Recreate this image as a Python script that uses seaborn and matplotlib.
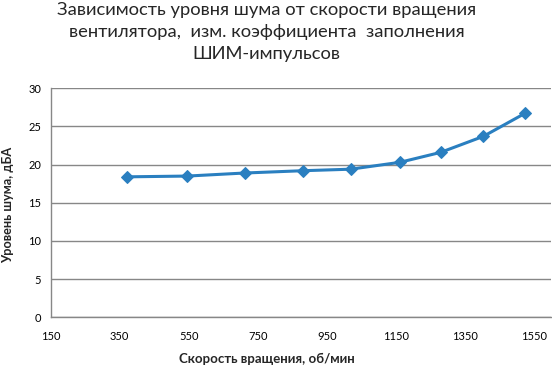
import pandas as pd
import matplotlib
matplotlib.use("Agg")
import matplotlib.pyplot as plt
import seaborn as sns

# Data
speed_rpm = [372, 546, 712, 880, 1019, 1162, 1280, 1404, 1524]
noise_dba = [18.4, 18.5, 18.9, 19.2, 19.4, 20.3, 21.6, 23.7, 26.7]
x_ticks = [150, 350, 550, 750, 950, 1150, 1350, 1550]
y_ticks = [0, 5, 10, 15, 20, 25, 30]

title = ("Зависимость уровня шума от скорости вращения\n"
         "вентилятора,  изм. коэффициента  заполнения\n"
         "ШИМ-импульсов")
x_label = "Скорость вращения, об/мин"
y_label = "Уровень шума, дБА"

df = pd.DataFrame({"speed": speed_rpm, "noise": noise_dba})

sns.set_style("white")
plt.rcParams["font.family"] = ["Lato", "DejaVu Sans"]

fig = plt.figure(figsize=(5.52, 3.68), dpi=100)
ax = fig.add_axes([0.092, 0.138, 0.906, 0.622])

sns.lineplot(data=df, x="speed", y="noise", ax=ax, color="#2A7FC0",
             linewidth=2.2, marker="D", markersize=6, markeredgecolor="#2A7FC0")

ax.set_xlim(150, 1600)
ax.set_ylim(0, 30)
ax.set_xticks(x_ticks)
ax.set_yticks(y_ticks)
ax.yaxis.grid(True, color="#878787", linewidth=1)
ax.xaxis.grid(False)
ax.set_axisbelow(True)

for side in ["top", "right"]:
    ax.spines[side].set_visible(False)
for side in ["left", "bottom"]:
    ax.spines[side].set_color("#878787")
    ax.spines[side].set_linewidth(1)

ax.tick_params(axis="both", which="major", direction="out", length=4,
               color="#878787", labelsize=8, labelcolor="black", pad=3)
ax.tick_params(axis="x", pad=6)

ax.set_xlabel(x_label, fontsize=9.5, fontweight="bold")
ax.set_ylabel(y_label, fontsize=9.2, fontweight="bold")
ax.xaxis.set_label_coords(0.432, -0.158)
ax.yaxis.set_label_coords(-0.073, 0.49)

fig.suptitle(title, fontsize=13.2, x=0.483, y=0.995, linespacing=1.45, va="top")

fig.savefig("out.png", dpi=100)
